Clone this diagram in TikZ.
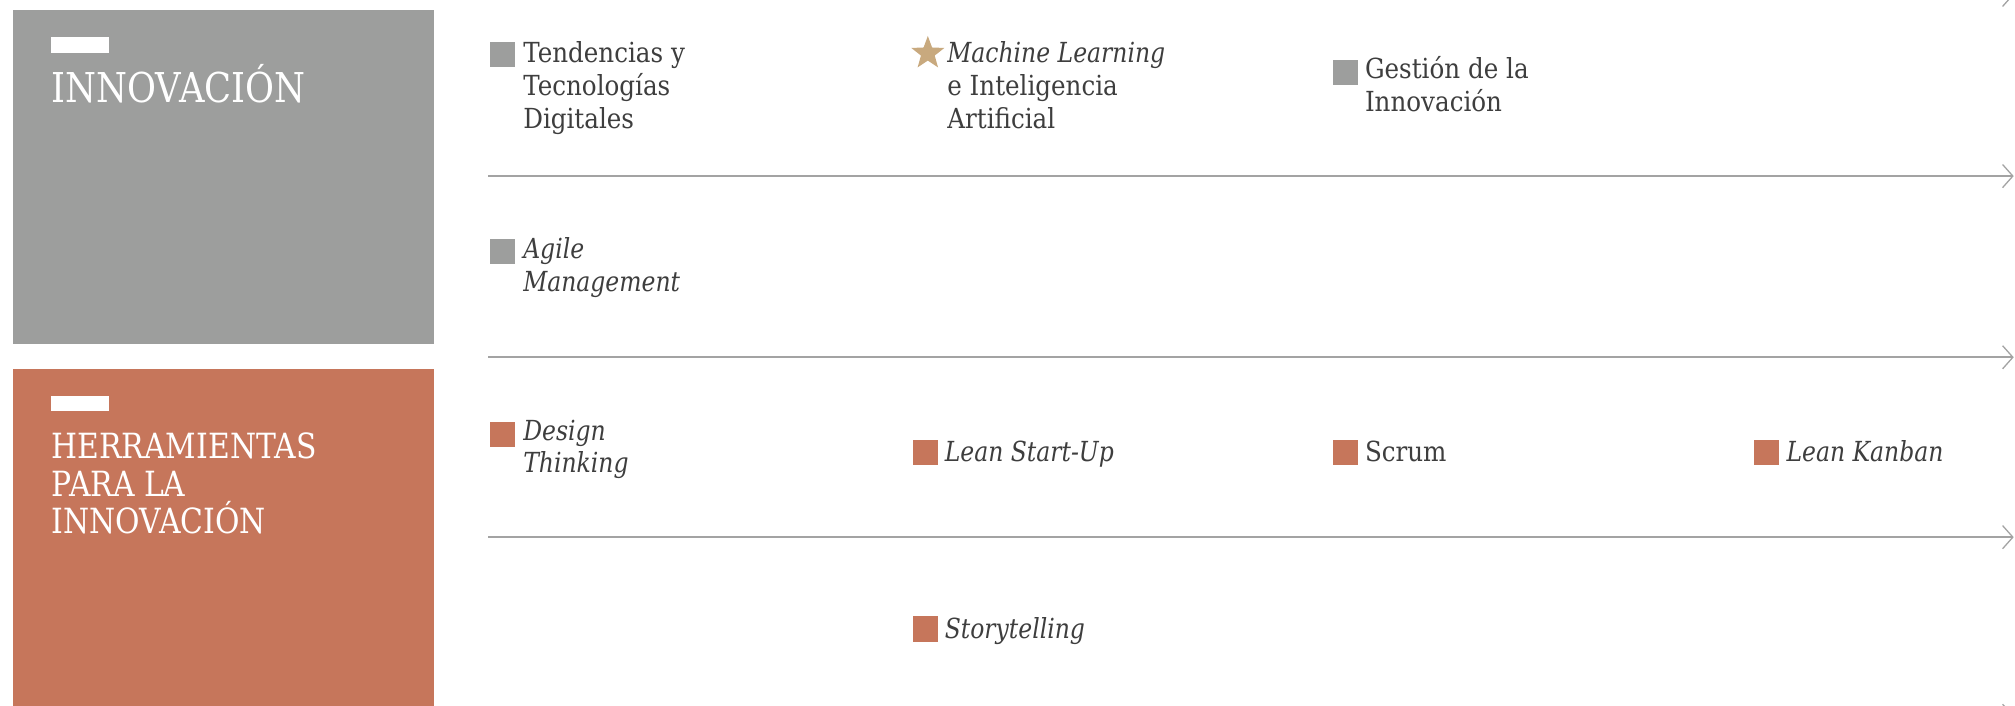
\documentclass[tikz,border=0pt]{standalone}
\usepackage{fontspec}
\setmainfont{DejaVu Serif}
\newfontfamily\bodyfont{DejaVu Serif}[FakeStretch=0.89]
\newfontfamily\italfont{DejaVu Serif Italic}[FakeStretch=0.85]
\newfontfamily\titlefont{DejaVu Serif}[FakeStretch=0.86]
\usetikzlibrary{shapes.geometric,arrows.meta}
\definecolor{innogray}{HTML}{9D9E9D}
\definecolor{herrorange}{HTML}{C6765B}
\definecolor{startan}{HTML}{C8A97E}
\definecolor{textdark}{HTML}{3E3E3E}
\definecolor{rulegray}{HTML}{A3A3A3}
\tikzset{
  panel/.style={inner sep=0pt, outer sep=0pt, anchor=north west, minimum width=328pt},
  whitebar/.style={fill=white, draw=none},
  title/.style={text=white, anchor=base west, inner sep=0pt, align=left,
    font=\titlefont\fontsize{32}{32}\selectfont},
  graysq/.style={fill=innogray, inner sep=0pt, minimum size=19.5pt, anchor=north west},
  orangesq/.style={fill=herrorange, inner sep=0pt, minimum size=19.5pt, anchor=north west},
  label/.style={text=textdark, anchor=base west, inner sep=0pt, align=left,
    font=\bodyfont\fontsize{21.5}{25.6}\selectfont},
  itlabel/.style={label, font=\italfont\fontsize{21.5}{25.6}\selectfont},
  timeline/.style={draw=rulegray, line width=1.3pt,
    -{Straight Barb[length=8pt,width=18pt,line width=1pt]}},
}
\begin{document}
\begin{tikzpicture}[x=1pt,y=-1pt]
\useasboundingbox (0,0) rectangle (1568,549);
\clip (0,0) rectangle (1568,549);
\fill[white] (0,0) rectangle (1568,549);

% panels
\node[panel, fill=innogray, minimum height=260pt] (innopanel) at (10,8) {};
\node[panel, fill=herrorange, minimum height=275pt] (herrpanel) at (10,287) {};
\fill[whitebar] (40,29) rectangle (85,41);
\fill[whitebar] (40,308) rectangle (85,320);
\node[title] (innotitle) at (40,80) {INNOVACIÓN};
\node[title, font=\titlefont\fontsize{27}{29}\selectfont] (herrtitle) at (40,415) {HERRAMIENTAS\\PARA LA\\INNOVACIÓN};

% timelines
\coordinate (l0s) at (380,-4);   \coordinate (l0e) at (1567,-4);
\coordinate (l1s) at (380,137);  \coordinate (l1e) at (1567,137);
\coordinate (l2s) at (380,278);  \coordinate (l2e) at (1567,278);
\coordinate (l3s) at (380,418);  \coordinate (l3e) at (1567,418);
\coordinate (l4s) at (380,557);  \coordinate (l4e) at (1567,557);
\draw[timeline] (l0s) -- (l0e);
\draw[timeline] (l1s) -- (l1e);
\draw[timeline] (l2s) -- (l2e);
\draw[timeline] (l3s) -- (l3e);
\draw[timeline] (l4s) -- (l4e);

% row 1
\node[graysq] (sqtend) at (381,32.5) {};
\node[label] (tend) at (407,100) {Tendencias y\\Tecnologías\\Digitales};
\node[star, star points=5, star point ratio=2.4, fill=startan, inner sep=0pt, minimum size=27pt] (starml) at (722,41.5) {};
\node[label] (ml) at (737,100) {{\italfont Machine Learning}\\e Inteligencia\\Artificial};
\node[graysq] (sqgest) at (1037,46.5) {};
\node[label] (gest) at (1062,87) {Gestión de la\\Innovación};

% row 2
\node[graysq] (sqagile) at (381,185.5) {};
\node[itlabel] (agile) at (407,227) {Agile\\Management};

% row 3
\node[orangesq] (sqdesign) at (381,328) {};
\node[itlabel] (design) at (407,368) {Design\\Thinking};
\node[orangesq] (sqlean) at (710,342) {};
\node[itlabel] (lean) at (735,359) {Lean Start-Up};
\node[orangesq] (sqscrum) at (1037,342) {};
\node[label] (scrum) at (1062,359) {Scrum};
\node[orangesq] (sqkanban) at (1365,342) {};
\node[itlabel] (kanban) at (1390,359) {Lean Kanban};

% row 4
\node[orangesq] (sqstory) at (710,479.5) {};
\node[itlabel] (story) at (735,497) {Storytelling};
\end{tikzpicture}
\end{document}
